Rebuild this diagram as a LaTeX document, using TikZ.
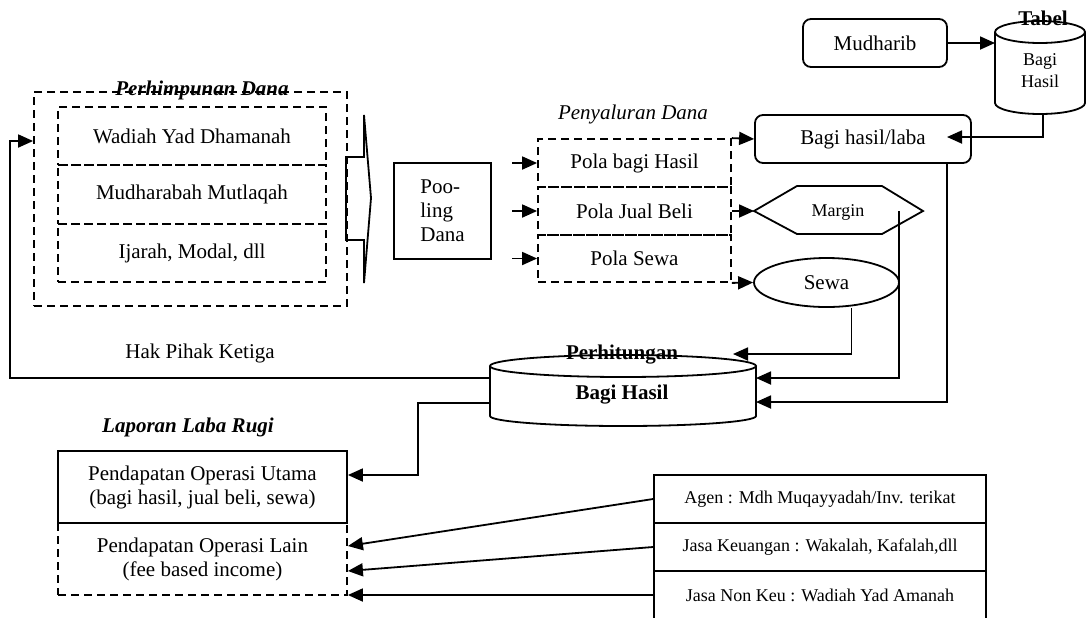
\documentclass[tikz,border=0pt]{standalone}
\usepackage{fontspec}
\setmainfont{Liberation Serif}
\usetikzlibrary{arrows.meta,shapes.geometric}
\begin{document}
\begin{tikzpicture}[x=0.5pt,y=-0.5pt, line width=0.9pt,
 font=\fontsize{10.5}{12}\selectfont,
 arr/.style={-{Triangle[length=7.5pt,width=6.5pt]}},
 box/.style={draw, rectangle, inner sep=0pt, align=center},
 dbox/.style={box, dash pattern=on 4pt off 2.5pt},
 rbox/.style={box, rounded corners=4pt},
 lbl/.style={inner sep=0pt},
 smalltxt/.style={font=\fontsize{9}{11}\selectfont},
 bftxt/.style={font=\fontsize{10.5}{12}\selectfont\bfseries},
 bfittxt/.style={font=\fontsize{10.5}{12}\selectfont\bfseries\itshape},
 ittxt/.style={font=\fontsize{10.5}{12}\selectfont\itshape}]
\path[fill=white] (0,0) rectangle (1086,617);
\useasboundingbox (0,0) rectangle (1086,617);

% Perhimpunan Dana
\node[dbox, minimum width=156.5pt, minimum height=107pt] (perh) at (190.5,199) {};
\node[lbl, bfittxt] (perhT) at (202,90) {Perhimpunan Dana};
\node[dbox, minimum width=134pt, minimum height=29pt] (wad) at (192,136) {Wadiah Yad Dhamanah};
\node[dbox, minimum width=134pt, minimum height=29.5pt] (mudr) at (192,194.5) {Mudharabah Mutlaqah};
\node[dbox, minimum width=134pt, minimum height=29pt] (ija) at (192,253) {Ijarah, Modal, dll};

% big hollow arrow
\draw (346,157) -- (364,157) -- (364,115) -- (371,198) -- (364,283) -- (364,240) -- (346,240) -- cycle;

% Pooling
\node[box, align=left, minimum width=48.5pt, minimum height=48pt] (pool) at (442.5,211) {Poo-\\ling\\Dana};

% Penyaluran
\node[lbl, ittxt] (penyT) at (633,114) {Penyaluran Dana};
\node[dbox, minimum width=96.5pt, minimum height=24pt] (pbh) at (634.5,163) {Pola bagi Hasil};
\node[dbox, minimum width=96.5pt, minimum height=24pt] (pjb) at (634.5,211) {Pola Jual Beli};
\node[dbox, minimum width=96.5pt, minimum height=23.5pt] (pse) at (634.5,258.5) {Pola Sewa};
\foreach \n in {pbh,pjb,pse} \draw[arr] ([xshift=-12.5pt]\n.west) -- (\n.west);

% right top
\node[rbox, minimum width=108pt, minimum height=24pt] (bhl) at (863,139) {Bagi hasil/laba};
\node[rbox, minimum width=72pt, minimum height=24pt] (mudh) at (875,43) {Mudharib};

% Tabel cylinder
\draw (995,32) -- (995,103) arc[start angle=180,end angle=360,x radius=22.5pt,y radius=5.5pt] -- (1085,32);
\draw (1040,32) ellipse[x radius=22.5pt,y radius=5.5pt];
\coordinate (tabL) at (995,43);
\coordinate (tabB) at (1043,114);
\node[lbl, bftxt] (tabT) at (1043,18) {Tabel};
\node[lbl, smalltxt, align=center] (tabTx) at (1040,71) {Bagi\\Hasil};

% Margin hexagon
\draw (754,211) -- (797,186) -- (882,186) -- (923,211) -- (882,234) -- (797,234) -- cycle;
\coordinate (margL) at (754,211);
\coordinate (margR) at (899,211);
\node[lbl, smalltxt] (marg) at (838,212) {Margin};

% Sewa
\node[draw, ellipse, inner sep=0pt, minimum width=72.5pt, minimum height=24.5pt] (sewa) at (826.5,282.5) {Sewa};

% Perhitungan Bagi Hasil cylinder
\draw (490,366) -- (490,416) arc[start angle=180,end angle=360,x radius=66.5pt,y radius=5pt] -- (756,366);
\draw (623,366) ellipse[x radius=66.5pt,y radius=5.5pt];
\coordinate (hitL1) at (490,378);
\coordinate (hitL2) at (490,403);
\node[lbl, bftxt] (hitT) at (622,355) {Perhitungan};
\node[lbl, bftxt] (hitB) at (622,395) {Bagi Hasil};

% connectors
\draw[arr] (pbh.north east) -- (bhl.west);
\draw[arr] (pjb.east) -- (margL);
\draw[arr] (pse.south east) -- (sewa.west);
\draw[arr] (mudh.east) -- (tabL);
\draw[arr] (tabB) |- (947,137);
\draw[arr] ([xshift=42pt]bhl.south) |- (756,402);
\draw[arr] (margR) |- (756,378);
\draw[arr] ([xshift=12.5pt]sewa.south) |- (733,354);
\draw[arr] (hitL1) -- (10,378) -- (10,141) -- (perh.west |- 10,141);
\node[lbl] (hak) at (200,353) {Hak Pihak Ketiga};

% Laporan Laba Rugi
\node[lbl, bfittxt] (lapT) at (188,427) {Laporan Laba Rugi};
\node[dbox, minimum width=144.5pt, minimum height=36pt] (pol) at (202.5,559) {Pendapatan Operasi Lain\\(fee based income)};
\node[box, minimum width=144.5pt, minimum height=36pt] (pou) at (202.5,487) {Pendapatan Operasi Utama\\(bagi hasil, jual beli, sewa)};
\draw[arr] (hitL2) -- (418,403) -- (418,475) -- (pou.east |- 418,475);

% right list
\node[box, smalltxt, minimum width=166pt, minimum height=24pt] (agen) at (820,499) {Agen : Mdh Muqayyadah/Inv. terikat};
\node[box, smalltxt, minimum width=166pt, minimum height=24pt] (jk) at (820,547) {Jasa Keuangan : Wakalah, Kafalah,dll};
\node[lbl, outer sep=0pt, smalltxt, minimum width=166pt, minimum height=24pt] (jnk) at (820,595) {Jasa Non Keu : Wadiah Yad Amanah};
\draw (jnk.south west) -- (jnk.north west) -- (jnk.north east) -- (jnk.south east);
\draw[arr] (agen.west) -- (pol.east |- 0,546);
\draw[arr] (jk.west) -- (pol.east |- 0,571);
\draw[arr] (jnk.west) -- (pol.east |- 0,595);
\end{tikzpicture}
\end{document}
